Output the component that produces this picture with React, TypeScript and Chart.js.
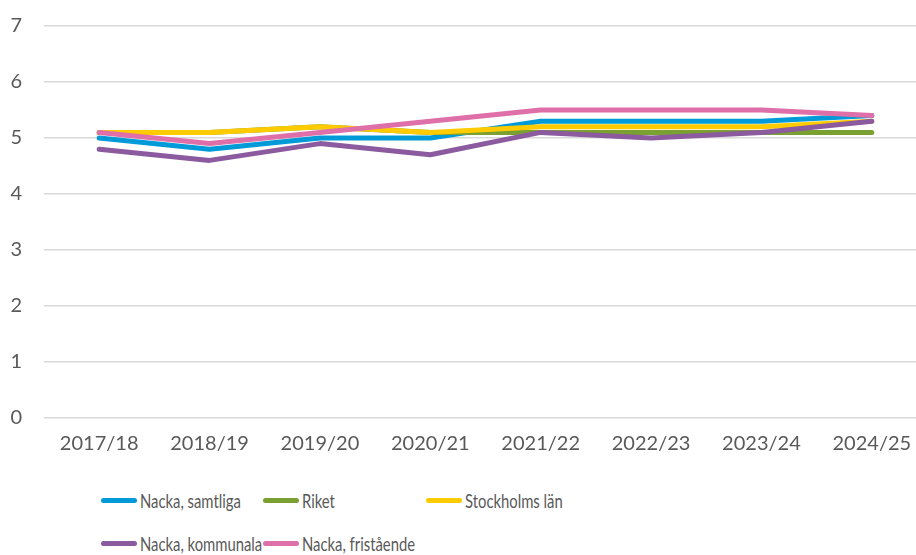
import React, { useEffect, useRef } from "react";
import { Chart, registerables } from "chart.js";

Chart.register(...registerables);

const categories = ["2017/18", "2018/19", "2019/20", "2020/21", "2021/22", "2022/23", "2023/24", "2024/25"];
const nackaSamtliga = [5.0, 4.8, 5.0, 5.0, 5.3, 5.3, 5.3, 5.4];
const riket = [5.1, 5.1, 5.2, 5.1, 5.1, 5.1, 5.1, 5.1];
const stockholmsLan = [5.1, 5.1, 5.2, 5.1, 5.2, 5.2, 5.2, 5.3];
const nackaKommunala = [4.8, 4.6, 4.9, 4.7, 5.1, 5.0, 5.1, 5.3];
const nackaFristaende = [5.1, 4.9, 5.1, 5.3, 5.5, 5.5, 5.5, 5.4];

const seriesNames = ["Nacka, samtliga", "Riket", "Stockholms län", "Nacka, kommunala", "Nacka, fristående"];
const seriesColors = ["#009ad8", "#7aa032", "#fecb00", "#8b5a9f", "#de6fa8"];
const seriesData = [nackaSamtliga, riket, stockholmsLan, nackaKommunala, nackaFristaende];
const yTicks = [0, 1, 2, 3, 4, 5, 6, 7];

const FONT = "Lato, 'Open Sans', sans-serif";
const TEXT = "#595959";

export default function App() {
  const ref = useRef<HTMLCanvasElement | null>(null);

  useEffect(() => {
    if (!ref.current) return;
    const chart = new Chart(ref.current, {
      type: "line",
      data: {
        labels: categories,
        datasets: seriesData.map((d, i) => ({
          label: seriesNames[i],
          data: d,
          order: seriesData.length - i,
          borderColor: seriesColors[i],
          backgroundColor: seriesColors[i],
          borderWidth: 5,
          pointRadius: 0,
          tension: 0,
          borderCapStyle: "round" as const,
          borderJoinStyle: "round" as const,
        })),
      },
      options: {
        animation: false,
        responsive: false,
        devicePixelRatio: 1,
        layout: { padding: { top: 17, right: 3, bottom: 0, left: 0 } },
        plugins: { legend: { display: false }, tooltip: { enabled: false } },
        scales: {
          x: {
            offset: true,
            grid: { display: false },
            border: { display: false },
            ticks: { color: TEXT, font: { family: FONT, size: 20 }, padding: 6, maxRotation: 0 },
          },
          y: {
            min: 0,
            max: 7,
            afterFit: (s: any) => { s.width = 44; },
            afterBuildTicks: (s: any) => { s.ticks = yTicks.map((v) => ({ value: v })); },
            grid: { color: "#d9d9d9", lineWidth: 1.5, drawTicks: false },
            border: { display: false },
            ticks: { color: TEXT, font: { family: FONT, size: 20 }, padding: 22, stepSize: 1 },
          },
        },
      },
    });
    return () => chart.destroy();
  }, []);

  const colLeft = [101, 263, 426];
  const rowY = [500, 543];

  return (
    <div style={{ position: "fixed", left: 0, top: 0, width: 916, height: 555, overflow: "hidden", background: "#fff" }}>
      <canvas ref={ref} width={930} height={470} style={{ position: "absolute", left: 0, top: -8 }} />
      {seriesNames.map((name, i) => {
        const row = i < 3 ? 0 : 1;
        const col = i < 3 ? i : i - 3;
        return (
          <div
            key={name}
            style={{
              position: "absolute",
              left: colLeft[col],
              top: rowY[row] - 12,
              height: 24,
              display: "flex",
              alignItems: "center",
              fontFamily: FONT,
              fontSize: 19,
              color: TEXT,
              whiteSpace: "nowrap",
            }}
          >
            <span style={{ display: "inline-block", width: 36, height: 5, borderRadius: 3, background: seriesColors[i], marginRight: 3 }} />
            <span style={{ display: "inline-block", transform: "scaleX(0.78)", transformOrigin: "left center" }}>{name}</span>
          </div>
        );
      })}
    </div>
  );
}
